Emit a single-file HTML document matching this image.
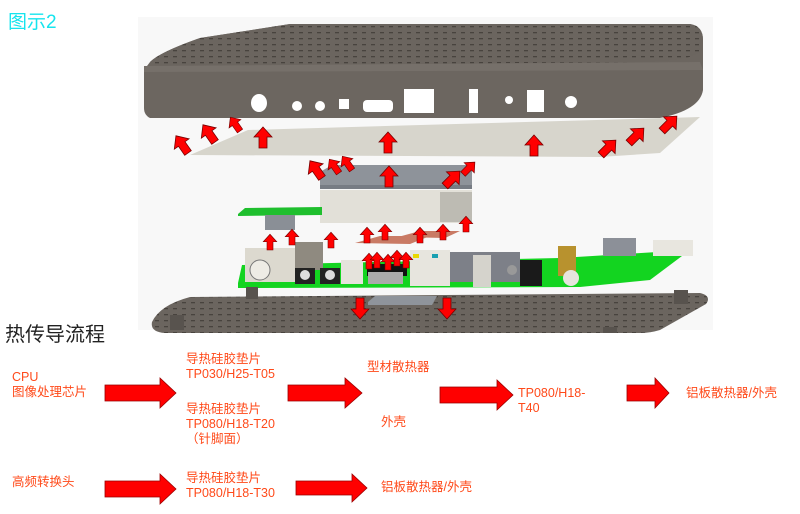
<!DOCTYPE html>
<html><head><meta charset="utf-8"><style>
html,body{margin:0;padding:0;background:#fff;width:800px;height:514px;overflow:hidden}
svg{position:absolute;left:0;top:0}
.t{position:absolute;font-family:"Liberation Sans","Noto Sans CJK SC",sans-serif;color:#ff4a1a;font-size:12.5px;line-height:15px;white-space:nowrap}
</style></head><body>
<svg width="800" height="514" viewBox="0 0 800 514">
<defs>
<pattern id="dots" width="9" height="6" patternUnits="userSpaceOnUse"><rect width="9" height="6" fill="#6b655f"/><rect x="2" y="2" width="4" height="1.3" fill="#48433e"/></pattern>
<g id="ua"><polygon points="-4,0 4,0 4,-11 9,-11 0,-21 -9,-11 -4,-11" fill="#f00" stroke="#700" stroke-width="0.8"/></g>
</defs>
<rect x="138" y="17" width="575" height="313" fill="#f8f8f8"/>
<!-- top shell -->
<path d="M150,62 Q160,52 200,38 L290,24 L690,24 Q703,26 703,40 L703,90 Q700,110 660,118 L150,118 Q144,115 144,108 L144,70 Z" fill="#6c6660"/>
<path d="M150,62 Q160,52 200,38 L290,24 L690,24 Q703,26 703,40 L703,50 Q690,62 640,62 L150,66 Z" fill="url(#dots)"/>
<path d="M144,66 L700,62 L703,70 L144,72Z" fill="#76706a"/>
<g fill="#fff">
<ellipse cx="259" cy="103" rx="8" ry="9"/><circle cx="297" cy="106" r="5"/><circle cx="320" cy="106" r="5"/>
<rect x="339" y="99" width="10" height="10"/><rect x="363" y="100" width="30" height="12" rx="4"/>
<rect x="404" y="89" width="30" height="24"/><rect x="469" y="89" width="9" height="24"/>
<circle cx="509" cy="100" r="4"/><rect x="527" y="90" width="17" height="22"/><circle cx="571" cy="102" r="6"/>
</g>
<!-- sheet -->
<polygon points="190,155 248,130 700,117 660,153 600,157" fill="#d7d5cc"/>
<!-- heatsink -->
<polygon points="320,172 332,165 472,165 472,188 320,188" fill="#8e939a"/>
<rect x="320" y="185" width="152" height="4" fill="#777c84"/>
<rect x="320" y="190" width="152" height="33" fill="#e2e0d8"/>
<rect x="440" y="192" width="32" height="30" fill="#bdbbb3"/>
<!-- small board -->
<polygon points="238,214 245,208 322,207 322,215 238,216" fill="#1fbf2e"/>
<rect x="265" y="215" width="30" height="15" fill="#8a8f96"/>
<!-- copper pads -->
<polygon points="355,243 380,236 430,236 410,244" fill="#c97a64"/>
<polygon points="398,237 420,231 460,231 445,238" fill="#c97a64"/>
<!-- main pcb -->
<polygon points="238,283 242,265 560,258 690,250 650,280 580,287 238,288" fill="#13d420"/>
<rect x="245" y="248" width="55" height="34" fill="#dcd9cf"/>
<circle cx="260" cy="270" r="10" fill="#eeece5" stroke="#777"/>
<rect x="295" y="242" width="28" height="28" fill="#8f8a80"/>
<rect x="295" y="268" width="20" height="16" fill="#222"/><circle cx="305" cy="275" r="5" fill="#ddd"/>
<rect x="320" y="268" width="20" height="16" fill="#222"/><circle cx="330" cy="275" r="5" fill="#ddd"/>
<rect x="341" y="260" width="22" height="24" fill="#e5e3dc"/>
<rect x="367" y="264" width="40" height="12" fill="#111"/>
<rect x="368" y="272" width="35" height="12" fill="#aaa"/>
<rect x="410" y="250" width="40" height="36" fill="#e7e5de"/>
<rect x="413" y="254" width="6" height="4" fill="#e8d800"/><rect x="432" y="254" width="6" height="4" fill="#1a9fb0"/>
<rect x="450" y="252" width="70" height="30" fill="#7d8088"/>
<rect x="473" y="255" width="18" height="32" fill="#d5d3cc"/>
<rect x="520" y="260" width="22" height="26" fill="#1a1a1a"/>
<circle cx="512" cy="270" r="5" fill="#999"/>
<rect x="558" y="246" width="18" height="30" fill="#b8922e"/>
<circle cx="571" cy="278" r="8" fill="#e6e4dd"/>
<rect x="603" y="238" width="33" height="18" fill="#8c9098"/>
<rect x="653" y="240" width="40" height="16" fill="#e8e6df"/>
<!-- bottom plate -->
<path d="M152,322 Q160,305 190,297 L700,293 Q712,296 706,304 L660,330 Q650,333 640,333 L165,333 Q150,332 152,322Z" fill="url(#dots)"/>
<rect x="170" y="315" width="14" height="15" fill="#58534e"/><rect x="674" y="290" width="14" height="14" fill="#58534e"/>
<rect x="603" y="327" width="14" height="6" fill="#58534e"/>
<rect x="246" y="287" width="12" height="12" fill="#58534e"/>
<polygon points="368,302 375,296 437,296 432,305 368,305" fill="#8f949b"/>
<!-- arrows vertical -->
<use href="#ua" transform="translate(263,148)"/><use href="#ua" transform="translate(388,153)"/>
<use href="#ua" transform="translate(534,156)"/><use href="#ua" transform="translate(389,187)"/>
<use href="#ua" transform="translate(270,250) scale(0.75)"/><use href="#ua" transform="translate(292,245) scale(0.75)"/>
<use href="#ua" transform="translate(331,248) scale(0.75)"/><use href="#ua" transform="translate(367,243) scale(0.75)"/>
<use href="#ua" transform="translate(385,240) scale(0.75)"/><use href="#ua" transform="translate(420,243) scale(0.75)"/>
<use href="#ua" transform="translate(443,240) scale(0.75)"/><use href="#ua" transform="translate(466,232) scale(0.75)"/>
<use href="#ua" transform="translate(369,269) scale(0.75)"/><use href="#ua" transform="translate(377,268) scale(0.75)"/>
<use href="#ua" transform="translate(388,270) scale(0.75)"/><use href="#ua" transform="translate(397,266) scale(0.75)"/>
<use href="#ua" transform="translate(406,268) scale(0.75)"/>
<use href="#ua" transform="translate(360,298) rotate(180)"/><use href="#ua" transform="translate(447,298) rotate(180)"/>
<!-- diagonal -->
<use href="#ua" transform="translate(188,153) rotate(-35)"/><use href="#ua" transform="translate(215,142) rotate(-35)"/>
<use href="#ua" transform="translate(240,131) rotate(-35) scale(0.8)"/>
<use href="#ua" transform="translate(322,178) rotate(-35)"/><use href="#ua" transform="translate(339,173) rotate(-35) scale(0.8)"/>
<use href="#ua" transform="translate(352,170) rotate(-35) scale(0.8)"/>
<use href="#ua" transform="translate(445,186) rotate(45)"/><use href="#ua" transform="translate(463,174) rotate(45) scale(0.8)"/>
<use href="#ua" transform="translate(601,155) rotate(45)"/><use href="#ua" transform="translate(629,143) rotate(45)"/>
<use href="#ua" transform="translate(662,131) rotate(45)"/>
<!-- flow arrows -->
<g fill="#f00" stroke="#900" stroke-width="0.8">
<polygon points="105,385 160,385 160,378 176,393 160,408 160,401 105,401"/>
<polygon points="288,385 345,385 345,378 362,393 345,408 345,401 288,401"/>
<polygon points="440,387 497,387 497,380 513,395 497,410 497,403 440,403"/>
<polygon points="627,385 655,385 655,378 669,393 655,408 655,401 627,401"/>
<polygon points="105,481 160,481 160,474 176,489 160,504 160,497 105,497"/>
<polygon points="296,481 352,481 352,474 367,488 352,502 352,495 296,495"/>
</g>
</svg>
<div class="t" style="left:8px;top:12px;color:#16e4ee;font-size:19px;line-height:22px">图示2</div>
<div class="t" style="left:5px;top:323px;color:#222;font-size:20px;line-height:24px">热传导流程</div>
<div class="t" style="left:12px;top:370px">CPU<br>图像处理芯片</div>
<div class="t" style="left:186px;top:352px">导热硅胶垫片<br>TP030/H25-T05</div>
<div class="t" style="left:186px;top:402px">导热硅胶垫片<br>TP080/H18-T20<br>（针脚面）</div>
<div class="t" style="left:367px;top:360px">型材散热器</div>
<div class="t" style="left:381px;top:415px">外壳</div>
<div class="t" style="left:518px;top:386px">TP080/H18-<br>T40</div>
<div class="t" style="left:686px;top:386px">铝板散热器/外壳</div>
<div class="t" style="left:12px;top:475px">高频转换头</div>
<div class="t" style="left:186px;top:471px">导热硅胶垫片<br>TP080/H18-T30</div>
<div class="t" style="left:381px;top:480px">铝板散热器/外壳</div>
</body></html>
